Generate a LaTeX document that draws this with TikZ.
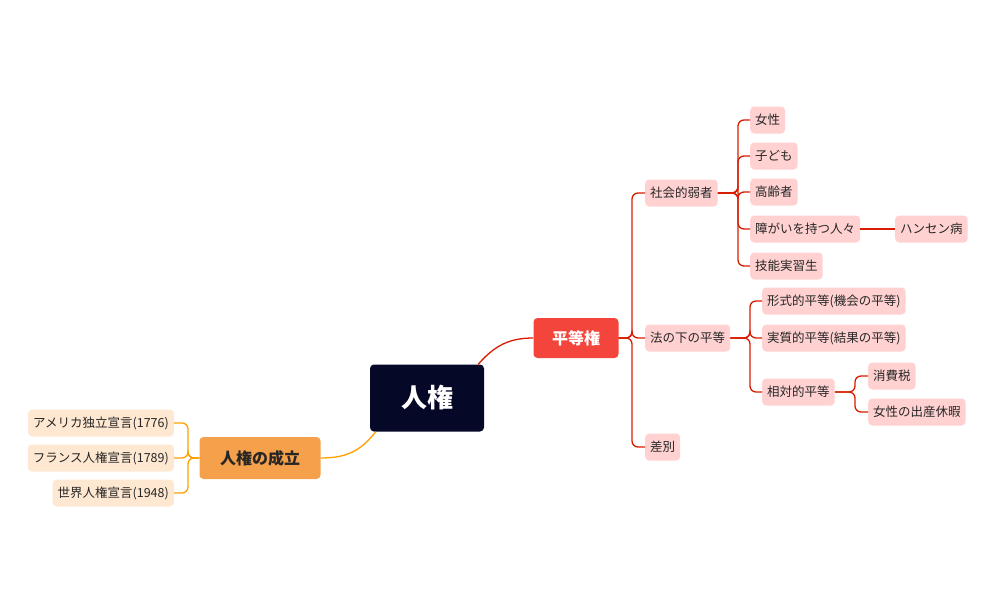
\documentclass[tikz,border=0pt]{standalone}
\usepackage{fontspec}
\setmainfont{Noto Sans CJK JP}
\begin{document}
\begin{tikzpicture}[x=1pt,y=-1pt,
  leaf/.style={anchor=west,rounded corners=4pt,minimum height=27pt,inner xsep=5pt,font=\fontsize{12.5}{14}\selectfont,text=black!85},
  rleaf/.style={leaf,fill=red!18!white},
  oleaf/.style={leaf,fill=orange!18!white},
  rl/.style={draw=red!75!orange!85!black,line width=1.3pt,rounded corners=6pt},
  ol/.style={draw=orange!75!yellow,line width=1.3pt,rounded corners=6pt}]
\useasboundingbox (0,0) rectangle (990,613);
\definecolor{navy}{HTML}{060827}
\definecolor{rmain}{HTML}{F4453D}
\definecolor{omain}{HTML}{F5A04A}
\node[fill=navy,text=white,rounded corners=4pt,minimum width=114pt,minimum height=67pt,font=\fontsize{26}{28}\selectfont\bfseries] (root) at (427,398) {人権};
\node[fill=rmain,text=white,rounded corners=4pt,minimum width=85pt,minimum height=40pt,font=\fontsize{16}{18}\selectfont\bfseries] (eq) at (576,338) {平等権};
\node[fill=omain,text=black!85,rounded corners=4pt,minimum width=121pt,minimum height=42pt,font=\fontsize{16}{18}\selectfont\bfseries] (est) at (260,458) {人権の成立};
\draw[rl,rounded corners=0] (root.north east) ++(-6,0) coordinate (r1) (r1) .. controls (495,345) and (510,338) .. (eq.west);
\draw[ol,rounded corners=0] (root.south west) ++(6,0) coordinate (r2) (r2) .. controls (360,452) and (345,458) .. (est.east);
% left leaves
\node[oleaf,anchor=east] (a1) at (174,423) {アメリカ独立宣言(1776)};
\node[oleaf,anchor=east] (a2) at (174,458) {フランス人権宣言(1789)};
\node[oleaf,anchor=east] (a3) at (174,493) {世界人権宣言(1948)};
\coordinate (TL) at (188,458);
\foreach \c in {a1,a2,a3} \draw[ol] (est.west) -- (est.west -| TL) |- (\c.east);
% second level
\node[rleaf] (s1) at (645,193) {社会的弱者};
\node[rleaf] (s2) at (645,338) {法の下の平等};
\node[rleaf] (s3) at (645,447) {差別};
\coordinate (T1) at (632,338);
\foreach \c in {s1,s2,s3} \draw[rl] (eq.east) -- (eq.east -| T1) |- (\c.west);
% third under s1
\node[rleaf] (w1) at (750,120) {女性};
\node[rleaf] (w2) at (750,156) {子ども};
\node[rleaf] (w3) at (750,192) {高齢者};
\node[rleaf] (w4) at (750,229) {障がいを持つ人々};
\node[rleaf] (w5) at (750,266) {技能実習生};
\node[rleaf] (h) at (895,229) {ハンセン病};
\coordinate (T2) at (738,193);
\foreach \c in {w1,w2,w3,w4,w5} \draw[rl] (s1.east) -- (s1.east -| T2) |- (\c.west);
\draw[rl] (w4.east) -- (h.west);
% under s2
\node[rleaf] (e1) at (762,301) {形式的平等(機会の平等)};
\node[rleaf] (e2) at (762,338) {実質的平等(結果の平等)};
\node[rleaf] (e3) at (762,392) {相対的平等};
\coordinate (T3) at (750,338);
\foreach \c in {e1,e2,e3} \draw[rl] (s2.east) -- (s2.east -| T3) |- (\c.west);
\node[rleaf] (f1) at (868,376) {消費税};
\node[rleaf] (f2) at (868,412) {女性の出産休暇};
\coordinate (T4) at (855,392);
\foreach \c in {f1,f2} \draw[rl] (e3.east) -- (e3.east -| T4) |- (\c.west);
\end{tikzpicture}
\end{document}
